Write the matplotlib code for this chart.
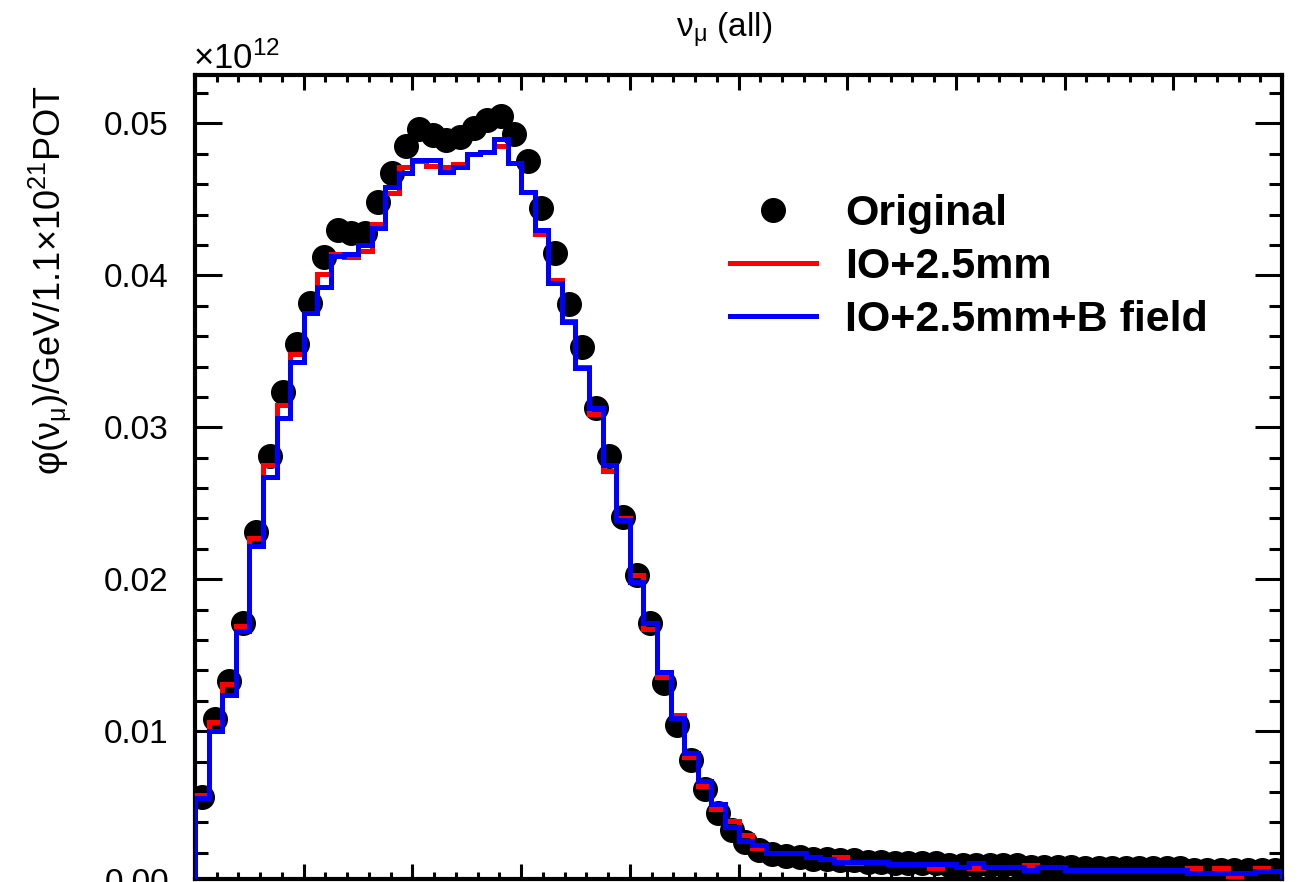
import numpy as np
import matplotlib
matplotlib.use("Agg")
import matplotlib.pyplot as plt
from matplotlib.ticker import MultipleLocator, FormatStrFormatter

plt.rcParams['font.family'] = ['Liberation Sans', 'DejaVu Sans']
plt.rcParams['mathtext.fontset'] = 'custom'
plt.rcParams['mathtext.rm'] = 'Liberation Sans'
plt.rcParams['mathtext.it'] = 'Liberation Sans:italic'
plt.rcParams['mathtext.bf'] = 'Liberation Sans:bold'

# data (x10^12), 80 bins from 0 to 10 GeV
e_min, e_max, n_bins = 0.0, 10.0, 80

original = [0.0057, 0.0108, 0.0133, 0.0171, 0.0231, 0.0281, 0.0323, 0.0355, 0.0382, 0.0412,
            0.0430, 0.0428, 0.0428, 0.0448, 0.0467, 0.0485, 0.0496, 0.0492, 0.0489, 0.0491,
            0.0497, 0.0502, 0.0505, 0.0493, 0.0475, 0.0444, 0.0415, 0.0381, 0.0353, 0.0313,
            0.0281, 0.0241, 0.0203, 0.0171, 0.0132, 0.0104, 0.0081, 0.0062, 0.0046, 0.0035,
            0.0027, 0.0022, 0.0019, 0.0018, 0.0017, 0.0016, 0.0016, 0.0015, 0.0015, 0.0014,
            0.0014, 0.0013, 0.0013, 0.0013, 0.0013, 0.0012, 0.0012, 0.0012, 0.0012, 0.0012,
            0.0012, 0.0011, 0.0011, 0.0011, 0.0011, 0.0010, 0.0010, 0.0010, 0.0010, 0.0010,
            0.0010, 0.0010, 0.0010, 0.0009, 0.0009, 0.0009, 0.0009, 0.0009, 0.0009, 0.0009]

io_25mm = [0.0058, 0.0106, 0.0131, 0.0169, 0.0227, 0.0275, 0.0315, 0.0348, 0.0375, 0.0401,
           0.0414, 0.0412, 0.0416, 0.0434, 0.0454, 0.0471, 0.0475, 0.0472, 0.0471, 0.0473,
           0.0480, 0.0481, 0.0485, 0.0474, 0.0455, 0.0427, 0.0397, 0.0370, 0.0340, 0.0309,
           0.0271, 0.0240, 0.0203, 0.0167, 0.0136, 0.0111, 0.0083, 0.0064, 0.0049, 0.0041,
           0.0032, 0.0023, 0.0020, 0.0020, 0.0020, 0.0017, 0.0016, 0.0017, 0.0013, 0.0014,
           0.0014, 0.00125, 0.00125, 0.00125, 0.0010, 0.00125, 0.0011, 0.0010, 0.0011, 0.0011,
           0.0011, 0.0012, 0.0011, 0.0011, 0.0009, 0.0009, 0.0009, 0.0009, 0.0009, 0.0009,
           0.0009, 0.0009, 0.0009, 0.0010, 0.00066, 0.0010, 0.0005, 0.00066, 0.0010, 0.0008]

io_25mm_b = [0.0056, 0.0100, 0.0124, 0.0166, 0.0222, 0.0267, 0.0306, 0.0343, 0.0375, 0.0392,
             0.0413, 0.0414, 0.0420, 0.0431, 0.0458, 0.0467, 0.0476, 0.0476, 0.0468, 0.0471,
             0.0480, 0.0481, 0.0490, 0.0474, 0.0455, 0.0430, 0.0395, 0.0369, 0.0339, 0.0313,
             0.0275, 0.0239, 0.0198, 0.0171, 0.0139, 0.0109, 0.0086, 0.0067, 0.0052, 0.0037,
             0.0028, 0.0025, 0.0020, 0.0020, 0.0020, 0.0017, 0.0016, 0.0014, 0.0014, 0.0014,
             0.0014, 0.00125, 0.00125, 0.00125, 0.00125, 0.00125, 0.0011, 0.0013, 0.0011, 0.0011,
             0.0011, 0.0009, 0.0011, 0.0011, 0.0009, 0.0009, 0.0009, 0.0009, 0.0009, 0.0009,
             0.0009, 0.0009, 0.0009, 0.00066, 0.00066, 0.00066, 0.00066, 0.00066, 0.0008, 0.0008]

labels = ["Original", "IO+2.5mm", "IO+2.5mm+B field"]

edges = np.linspace(e_min, e_max, n_bins + 1)
centers = 0.5 * (edges[:-1] + edges[1:])

W, H = 1301, 882
fig = plt.figure(figsize=(W / 100, H / 100), dpi=100)
ax = fig.add_axes([195 / W, 1 - 879 / H, (1282 - 195) / W, (879 - 75) / H])

ax.plot(centers, original, 'o', color='black', markersize=17, zorder=2, label=labels[0])
ax.stairs(io_25mm, edges, color='red', linewidth=3.6, zorder=3, label=labels[1])
ax.stairs(io_25mm_b, edges, color='blue', linewidth=3.6, zorder=4, label=labels[2])

ax.set_xlim(e_min, e_max)
ax.set_ylim(0.00028, 0.05318)

for s in ax.spines.values():
    s.set_linewidth(3.0)

ax.xaxis.set_major_locator(MultipleLocator(1))
ax.xaxis.set_minor_locator(MultipleLocator(0.2))
ax.yaxis.set_major_locator(MultipleLocator(0.01))
ax.yaxis.set_minor_locator(MultipleLocator(0.002))
ax.yaxis.set_major_formatter(FormatStrFormatter('%.2f'))

ax.tick_params(axis='both', which='both', direction='in', top=True, right=True, width=2.2)
ax.tick_params(axis='x', which='major', length=11)
ax.tick_params(axis='x', which='minor', length=5)
ax.tick_params(axis='y', which='major', length=19.5, labelsize=24, pad=19)
ax.tick_params(axis='y', which='minor', length=9.5)
ax.tick_params(axis='x', labelbottom=False)

# zero label sits at the cut edge, as in the source
ax.text(-0.0235, 0.0, "0.00", transform=ax.get_yaxis_transform(), ha='right',
        va='center', fontsize=24, clip_on=False)

ax.set_ylabel(r"φ(ν$_{\mathrm{\mu}}$)/GeV/1.1×10$^{21}$POT", fontsize=26)
ax.yaxis.set_label_coords(50 / W, 1 - 280 / H, transform=fig.transFigure)
ax.yaxis.label.set_va('center')

ax.set_title(r"ν$_{\mathrm{\mu}}$ (all)", fontsize=24, x=(724 - 195) / (1282 - 195),
             y=1 + 45 / 804, va='center', pad=0)

ax.text(-0.002, 0.999, r"×10$^{12}$", transform=ax.transAxes, ha='left', va='bottom',
        fontsize=25)

leg = ax.legend(loc='center left', bbox_to_anchor=(730 / W, 1 - 267 / H),
                bbox_transform=fig.transFigure, frameon=False, borderpad=0,
                borderaxespad=0, handlelength=2.0, handletextpad=0.68,
                labelspacing=0.3, prop={'weight': 'bold', 'size': 31})

fig.savefig("out.png", dpi=100)
